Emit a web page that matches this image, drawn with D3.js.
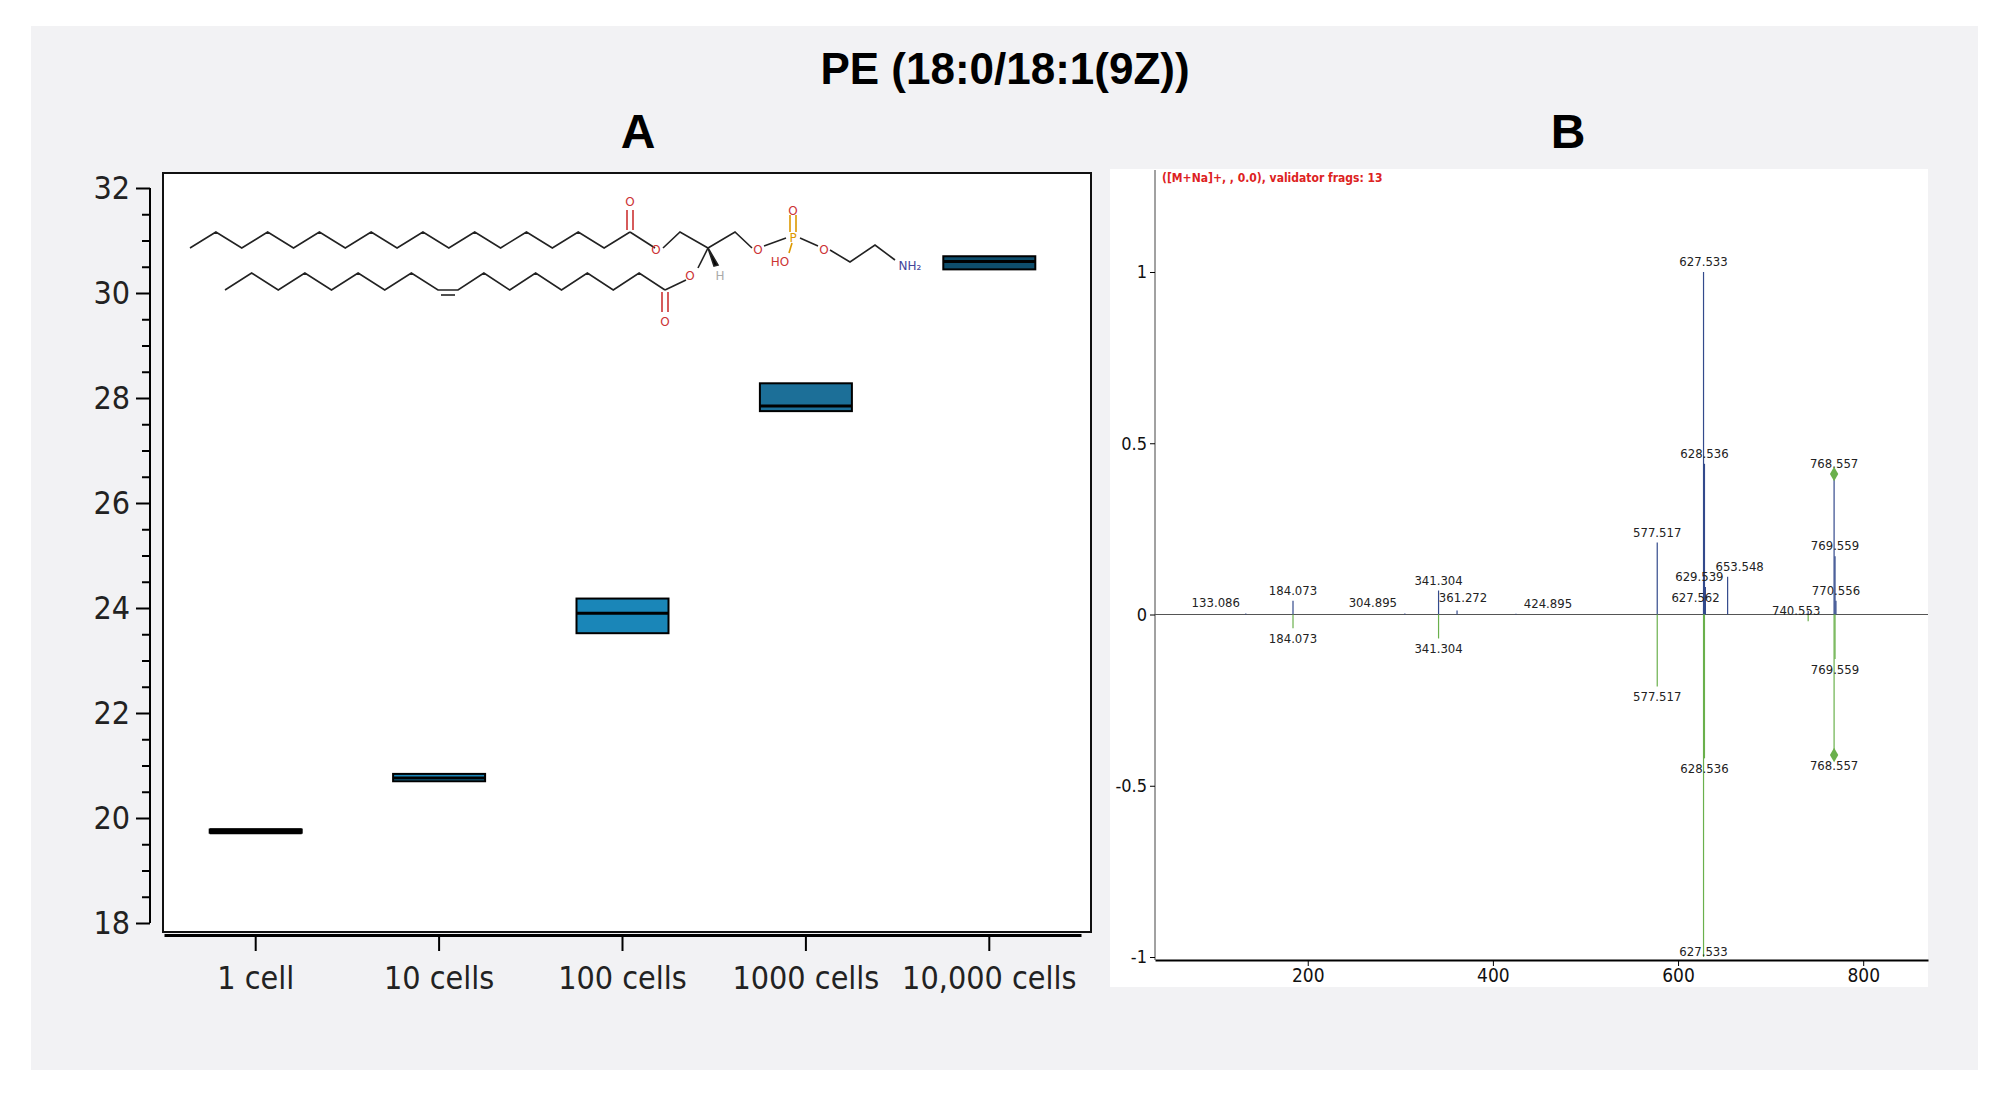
<!DOCTYPE html>
<html><head><meta charset="utf-8">
<script src="https://cdn.jsdelivr.net/npm/d3@7"></script>
<style>body{margin:0;background:#fff}svg{display:block}</style>
</head><body>
<svg id="c" width="2000" height="1097"></svg>
<script>
// ---- Panel A data ----
const categories = ["1 cell","10 cells","100 cells","1000 cells","10,000 cells"];
const boxLow    = [19.72, 20.70, 23.52, 27.75, 30.45];
const boxMedian = [19.75, 20.76, 23.90, 27.85, 30.60];
const boxHigh   = [19.78, 20.84, 24.18, 28.28, 30.70];
const boxColors = ["#1a86b8","#1a86b8","#1a86b8","#1c6f98","#0e4d6b"];
const yTicksA = [18,20,22,24,26,28,30,32];
// ---- Panel B data ----
const topMz   = [133.086,184.073,304.895,341.304,361.272,424.895,577.517,627.533,628.536,629.539,627.562,653.548,740.553,768.557,769.559,770.556];
const topInt  = [0.003,0.04,0.003,0.07,0.012,0.002,0.21,1.0,0.44,0.08,0.02,0.11,0.01,0.41,0.17,0.04];
const botMz   = [184.073,341.304,577.517,627.533,628.536,740.553,769.559,768.557];
const botInt  = [-0.04,-0.07,-0.21,-1.0,-0.42,-0.02,-0.13,-0.41];
const diamondMz = [768.557];
const xTicksB = [200,400,600,800];
const yTicksB = [-1,-0.5,0,0.5,1];

const svg = d3.select("#c");
svg.append("rect").attr("x",31).attr("y",26).attr("width",1947).attr("height",1044).attr("fill","#f2f2f4");
svg.append("text").attr("x",1005).attr("y",84).attr("text-anchor","middle").attr("font-family","Liberation Sans, Arial").attr("font-weight","bold").attr("font-size",44).text("PE (18:0/18:1(9Z))");
svg.append("text").attr("x",638).attr("y",148).attr("text-anchor","middle").attr("font-family","Liberation Sans, Arial").attr("font-weight","bold").attr("font-size",48).text("A");
svg.append("text").attr("x",1568).attr("y",148).attr("text-anchor","middle").attr("font-family","Liberation Sans, Arial").attr("font-weight","bold").attr("font-size",48).text("B");

// ---- Panel A ----
const A = svg.append("g");
A.append("rect").attr("x",163).attr("y",173).attr("width",928).attr("height",759).attr("fill","#fff").attr("stroke","#111").attr("stroke-width",2);
const xA = d3.scaleBand().domain(categories).range([164,1081]);
const yA = d3.scaleLinear().domain([18,32]).range([923,188]);
const fontA = "DejaVu Sans Condensed, Liberation Sans Narrow, sans-serif";
const yAxA = A.append("g").attr("transform","translate(150,0)")
  .call(d3.axisLeft(yA).tickValues(d3.range(18,32.01,0.5)).tickSize(8).tickFormat(d=>yTicksA.includes(d)?d:""));
yAxA.selectAll(".tick line").attr("x2",d=>yTicksA.includes(d)?-14:-8).attr("stroke-width",2);
yAxA.select(".domain").attr("stroke-width",2).attr("d","M0,"+yA(32)+"V"+yA(18));
yAxA.selectAll("text").attr("font-size",32).attr("font-family",fontA).attr("fill","#222").attr("x",-20);
const xAxA = A.append("g").attr("transform","translate(0,935)").call(d3.axisBottom(xA).tickSize(16).tickSizeOuter(0));
xAxA.select(".domain").attr("stroke-width",3);
xAxA.selectAll(".tick line").attr("stroke-width",2);
xAxA.selectAll("text").attr("font-size",32).attr("font-family",fontA).attr("fill","#222").attr("dy","1.1em");
const bw = 92;
categories.forEach((c,i)=>{
  const cx = xA(c)+xA.bandwidth()/2;
  A.append("rect").attr("x",cx-bw/2).attr("y",yA(boxHigh[i])).attr("width",bw)
   .attr("height",Math.max(yA(boxLow[i])-yA(boxHigh[i]),2)).attr("fill",i===0?"#000":boxColors[i]).attr("stroke","#000").attr("stroke-width",2);
  A.append("line").attr("x1",cx-bw/2).attr("x2",cx+bw/2).attr("y1",yA(boxMedian[i])).attr("y2",yA(boxMedian[i])).attr("stroke","#000").attr("stroke-width",i===0?6:3);
});

// ---- molecule drawing ----
const M = A.append("g").attr("fill","none").attr("stroke","#222").attr("stroke-width",1.6);
const zig=(x0,x1,yLo,yHi,n,startLow)=>{const pts=[];for(let k=0;k<=n;k++){pts.push([x0+(x1-x0)*k/n,((k%2===0)===startLow)?yLo:yHi]);}return pts;};
const line=d3.line();
const c1 = zig(190,630,248,232,17,true);
M.append("path").attr("d",line(c1));
M.append("path").attr("d",line([[630,232],[655,248]]));
M.append("path").attr("d",line([[627,230],[627,210]])).attr("stroke","#c33");
M.append("path").attr("d",line([[633,230],[633,210]])).attr("stroke","#c33");
M.append("path").attr("d",line([[663,248],[680,232],[708,248],[735,232],[752,248]]));
M.append("path").attr("d",line([[764,246],[786,238]]));
M.append("path").attr("d",line([[800,238],[818,246]]));
M.append("path").attr("d",line([[790,232],[790,215]])).attr("stroke","#d90");
M.append("path").attr("d",line([[796,232],[796,215]])).attr("stroke","#d90");
M.append("path").attr("d",line([[792,243],[789,253]])).attr("stroke","#d90");
M.append("path").attr("d",line([[830,250],[850,262],[875,245],[895,260]]));
M.append("path").attr("d",line([[708,248],[698,268]]));
M.append("path").attr("d","M708,248L714,266L718,265Z").attr("fill","#000");
// second chain: zigzag with a flat cis C=C segment
const c2a = zig(665,458,290,273,8,true);
const c2b = zig(438,225,290,273,8,true);
M.append("path").attr("d",line([[686,280],[665,290]]));
M.append("path").attr("d",line(c2a.concat(c2b)));
M.append("path").attr("d",line([[441,295],[455,295]]));
M.append("path").attr("d",line([[662,292],[662,312]])).attr("stroke","#c33");
M.append("path").attr("d",line([[668,292],[668,312]])).attr("stroke","#c33");
const atoms=[["O",630,206,"#c33"],["O",656,254,"#c33"],["O",690,280,"#c33"],["H",720,280,"#aaa"],["O",665,326,"#c33"],
 ["O",758,254,"#c33"],["P",793,242,"#d90"],["O",793,215,"#c33"],["HO",780,266,"#c33"],["O",824,254,"#c33"],["NH\u2082",910,270,"#449"]];
atoms.forEach(a=>A.append("text").attr("x",a[1]).attr("y",a[2]).attr("text-anchor","middle").attr("font-family","DejaVu Sans").attr("font-size",12).attr("fill",a[3]).text(a[0]));

// ---- Panel B ----
const B = svg.append("g");
B.append("rect").attr("x",1110).attr("y",169).attr("width",818).attr("height",818).attr("fill","#fff");
const xB = d3.scaleLinear().domain([35,870]).range([1155,1928]);
const yB = d3.scaleLinear().domain([-1,1]).range([957,272]);
const fontB = "DejaVu Sans Condensed, sans-serif";
const yAxB = B.append("g").attr("transform","translate(1155,0)").call(d3.axisLeft(yB).tickValues(yTicksB).tickSize(5).tickFormat(d=>d));
yAxB.select(".domain").attr("d","M0,170V960").attr("stroke","#444");
yAxB.selectAll("text").attr("font-size",18).attr("font-family",fontB).attr("fill","#111");
const xAxB = B.append("g").attr("transform","translate(0,960)").call(d3.axisBottom(xB).tickValues(xTicksB).tickSize(6).tickSizeOuter(0));
xAxB.select(".domain").attr("stroke-width",2);
xAxB.selectAll("text").attr("font-size",19).attr("font-family",fontB).attr("fill","#111");
B.append("line").attr("x1",1155).attr("x2",1928).attr("y1",yB(0)).attr("y2",yB(0)).attr("stroke","#555");
B.append("text").attr("x",1162).attr("y",182).attr("font-family",fontB).attr("font-weight","bold").attr("font-size",12).attr("fill","#d22").text("([M+Na]+, , 0.0), validator frags: 13");
const lab = (m,v,up)=>B.append("text").attr("x",xB(m)).attr("y",up?yB(v)-6:yB(v)+15).attr("text-anchor","middle").attr("font-family",fontB).attr("font-size",13).attr("fill","#222").text(m.toFixed(3));
topMz.forEach((m,i)=>{B.append("line").attr("x1",xB(m)).attr("x2",xB(m)).attr("y1",yB(0)).attr("y2",yB(topInt[i])).attr("stroke","#334a8c").attr("stroke-width",1.2);});
botMz.forEach((m,i)=>{B.append("line").attr("x1",xB(m)).attr("x2",xB(m)).attr("y1",yB(0)).attr("y2",yB(botInt[i])).attr("stroke","#6ab04c").attr("stroke-width",1.2);});
const topLabelShift = {133.086:[-30,0],304.895:[-32,0],424.895:[32,0],361.272:[6,-2],627.562:[-8,0],629.539:[-6,0],653.548:[12,0],740.553:[-12,10],770.556:[0,0]};
topMz.forEach((m,i)=>{const s=topLabelShift[m]||[0,0];lab(m,topInt[i],true).attr("dx",s[0]).attr("dy",s[1]);});
botMz.forEach((m,i)=>{if(m!==740.553) lab(m,botInt[i],false).attr("dy",m===627.533?-16:0);});
const dm = d3.symbol().type(d3.symbolDiamond).size(60);
diamondMz.forEach(m=>{
  B.append("path").attr("d",dm()).attr("transform",`translate(${xB(m)},${yB(0.41)})`).attr("fill","#6ab04c");
  B.append("path").attr("d",dm()).attr("transform",`translate(${xB(m)},${yB(-0.41)})`).attr("fill","#6ab04c");
});
</script>
</body></html>
